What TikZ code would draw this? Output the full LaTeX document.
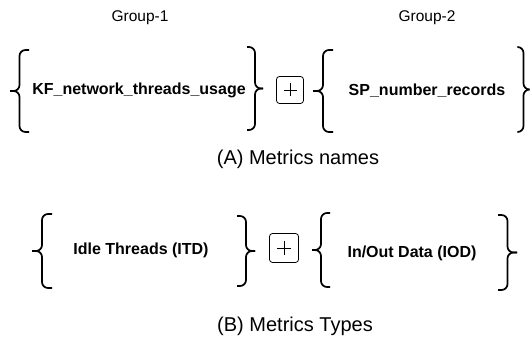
\documentclass[tikz,border=0pt]{standalone}
\usepackage{fontspec}
\setmainfont{Liberation Sans}
\usetikzlibrary{calc}

% curly bracket: x of ends, x of tip, y bottom, y top
\newcommand{\grpbrace}[4]{%
  \draw[curly] (#1,#4) -- ({(#1+#2)/2},#4) -- ({(#1+#2)/2},{(#3+#4)/2}) -- (#2,{(#3+#4)/2});
  \draw[curly] (#1,#3) -- ({(#1+#2)/2},#3) -- ({(#1+#2)/2},{(#3+#4)/2}) -- (#2,{(#3+#4)/2});}

\begin{document}
\begin{tikzpicture}[x=1pt, y=1pt,
  grp/.style={font=\fontsize{15.5}{18}\selectfont},
  metric/.style={font=\fontsize{16}{19}\selectfont\bfseries},
  caption/.style={font=\fontsize{20}{24}\selectfont},
  opbox/.style={draw, rounded corners=3pt, minimum size=#1, inner sep=0pt, line width=0.8pt},
  curly/.style={line width=1.7pt, rounded corners=6pt}]
  \useasboundingbox (0,0) rectangle (531,339);

  % (A) metric names
  \node[grp] (grpA) at (140,321) {Group-1};
  \node[grp] (grpB) at (427,321) {Group-2};
  \node[metric] (kf) at (139,249) {KF\_network\_threads\_usage};
  \node[metric] (sp) at (427,248) {SP\_number\_records};
  \grpbrace{29}{10}{207}{289}
  \grpbrace{247}{263}{209}{292}
  \grpbrace{333}{313}{207}{289}
  \grpbrace{518}{529}{207}{292}
  \node[opbox=27pt] (plusA) at (290,249) {};
  \draw[line width=0.7pt] ($(plusA.center)+(-6.5,0)$) -- ($(plusA.center)+(6.5,0)$);
  \draw[line width=0.7pt] ($(plusA.center)+(0,-6.5)$) -- ($(plusA.center)+(0,6.5)$);
  \node[caption] (capA) at (298,180) {(A) Metrics names};

  % (B) metric types
  \node[metric] (itd) at (141,89) {Idle Threads (ITD)};
  \node[metric] (iod) at (412,86) {In/Out Data (IOD)};
  \grpbrace{52}{32}{51}{125}
  \grpbrace{237}{255}{53}{123}
  \grpbrace{330}{312}{52}{126}
  \grpbrace{498}{517}{49}{124}
  \node[opbox=29pt] (plusB) at (284,91) {};
  \draw[line width=0.7pt] ($(plusB.center)+(-7,0)$) -- ($(plusB.center)+(7,0)$);
  \draw[line width=0.7pt] ($(plusB.center)+(0,-7)$) -- ($(plusB.center)+(0,7)$);
  \node[caption] (capB) at (295,13) {(B) Metrics Types};
\end{tikzpicture}
\end{document}
